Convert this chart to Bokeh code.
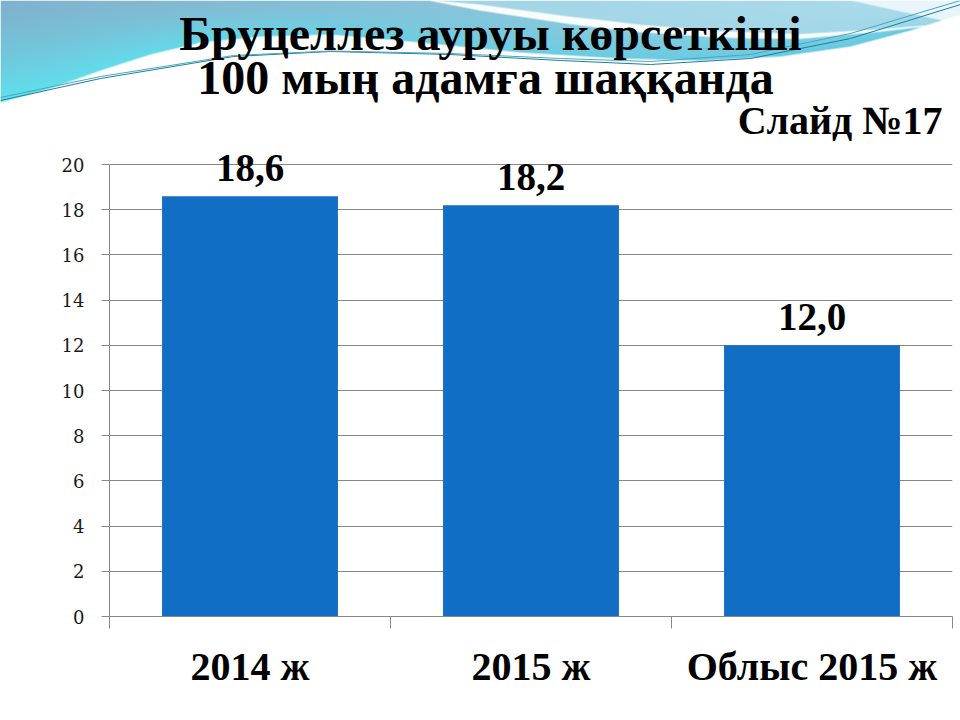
import numpy as np
from bokeh.plotting import figure
from bokeh.layouts import column, row
from bokeh.models import Range1d, FixedTicker, ColumnDataSource
from bokeh.core.properties import value
from bokeh.embed import file_html
from bokeh.resources import INLINE

# ---------------- data ----------------
title_line1 = "Бруцеллез ауруы көрсеткіші"
title_line2 = "100 мың адамға шаққанда"
slide_label = "Слайд №17"
categories = ["2014 ж", "2015 ж", "Облыс 2015 ж"]
values = [18.6, 18.2, 12.0]
y_ticks = [0, 2, 4, 6, 8, 10, 12, 14, 16, 18, 20]

# ---------------- styles ----------------
SERIF = "Liberation Serif"
BAR_COLOR = "#126DC5"
GRID_COLOR = "#878787"
PX_PER_UNIT = 22.6          # vertical scale of the value axis (pixels per unit)
LABEL_GAP_PX = 28           # distance from bar top to the middle of its value label

# ---------------- decorative header (background swoosh) ----------------
W, H = 960, 144
X, Y = np.meshgrid(np.arange(W) + 0.5, np.arange(H) + 0.5)

bx = [0, 50, 100, 150, 200, 260, 330, 420, 520, 620, 700, 780, 850, 910, 960]
by = [102, 88, 70, 54, 42, 36, 34, 42, 52, 58, 60, 56, 46, 30, 14]
Lb = np.interp(X, bx, by)
t = np.clip(Y / Lb, 0, 1) ** 1.3


def interp_col(stops_x, cols):
    cols = np.array(cols, float)
    return np.stack([np.interp(X, stops_x, cols[:, k]) for k in range(3)], axis=-1)


Ct = interp_col([0, 480, 960], [(128, 178, 206), (140, 196, 218), (176, 222, 236)])
Cb = interp_col([0, 480, 960], [(94, 226, 238), (110, 205, 226), (100, 200, 225)])
col = Ct * (1 - t[..., None]) + Cb * t[..., None]

Rc = np.interp(X, [400, 430, 500, 570, 640, 720, 800, 880, 960], [-12, 0, 10, 20, 28, 34, 36, 30, 22])
rw = np.interp(X, [420, 480, 600, 760, 900, 960], [0, 6, 8, 6, 2, 0])
above = ((Y < Rc) & (X > 420)).astype(float)[..., None]
light = np.array([172, 219, 235], float)
col = col * (1 - 0.75 * above) + light * 0.75 * above
ra = (np.clip(rw / 2 - np.abs(Y - Rc) + 0.5, 0, 1) * 0.95)[..., None]
col = col * (1 - ra) + 255 * ra
trb = np.interp(X, [850, 960], [0, 24])
tra = (np.clip(trb - Y + 0.5, 0, 1) * (X > 850) * 0.9)[..., None]
col = col * (1 - tra) + np.array([240, 248, 252]) * tra

a = np.clip(Lb - Y + 0.5, 0, 1)[..., None]
col = col * a + 255 * (1 - a)

img = np.empty((H, W), dtype=np.uint32)
view = img.view(dtype=np.uint8).reshape((H, W, 4))
view[..., 0] = col[..., 0].astype(np.uint8)
view[..., 1] = col[..., 1].astype(np.uint8)
view[..., 2] = col[..., 2].astype(np.uint8)
view[..., 3] = 255
img = img[::-1]

top = figure(width=960, height=144, x_range=Range1d(0, 960), y_range=Range1d(-144, 0),
             output_backend="svg", toolbar_location=None, min_border=0)
top.axis.visible = False
top.grid.visible = False
top.outline_line_color = None
top.background_fill_color = "white"
top.border_fill_color = "white"
top.image_rgba(image=[img], x=0, y=-144, dw=960, dh=144)

l1x = [0, 100, 233, 330, 450, 560, 650, 750, 850, 960]
l1y = [100, 78, 56, 51, 54, 60, 64, 58, 38, 4]
l2y = [97, 76, 55, 50.5, 53, 58, 61, 54, 33, 0]
top.line(l1x, [-v for v in l1y], line_color="#1f7f99", line_width=1)
top.line(l1x, [-v for v in l2y], line_color="#4aa6c0", line_width=1)

top.text(x=[490], y=[-33], text=[title_line1], text_font=value(SERIF), text_font_style="bold",
         text_font_size="48px", text_align="center", text_baseline="middle", text_color="black")
top.text(x=[485], y=[-77], text=[title_line2], text_font=value(SERIF), text_font_style="bold",
         text_font_size="48px", text_align="center", text_baseline="middle", text_color="black")
top.text(x=[942], y=[-120], text=[slide_label], text_font=value(SERIF), text_font_style="bold",
         text_font_size="40px", text_align="right", text_baseline="middle", text_color="black")

# ---------------- main bar chart ----------------
n = len(categories)
centers = [i + 0.5 for i in range(n)]
labels = [f"{v:.1f}".replace(".", ",") for v in values]
label_y = [v + LABEL_GAP_PX / PX_PER_UNIT for v in values]
src = ColumnDataSource(dict(x=centers, top=values, label=labels, ly=label_y))

frame_h = 616 - 144
p = figure(width=960, height=576, x_range=Range1d(0, n), y_range=Range1d(0, frame_h / PX_PER_UNIT),
           output_backend="svg", toolbar_location=None,
           min_border_left=109, min_border_right=8, min_border_top=0, min_border_bottom=104)
p.outline_line_color = None
p.background_fill_color = "white"
p.border_fill_color = "white"

p.vbar(x="x", top="top", width=0.626, bottom=0, source=src, fill_color=BAR_COLOR, line_color=None)
p.text(x="x", y="ly", text="label", source=src, text_align="center",
       text_baseline="middle", text_font=value(SERIF), text_font_style="bold",
       text_font_size="39px", text_color="black")

xa = p.xaxis[0]
xa.ticker = FixedTicker(ticks=centers, minor_ticks=list(range(n + 1)))
xa.major_label_overrides = {c: cat for c, cat in zip(centers, categories)}
xa.major_tick_out = 0
xa.major_tick_in = 0
xa.minor_tick_out = 12
xa.minor_tick_in = 0
xa.minor_tick_line_color = GRID_COLOR
xa.axis_line_color = GRID_COLOR
xa.major_label_standoff = 15
xa.major_label_text_font = SERIF
xa.major_label_text_font_style = "bold"
xa.major_label_text_font_size = "40px"
xa.major_label_text_color = "black"

ya = p.yaxis[0]
ya.ticker = FixedTicker(ticks=y_ticks)
ya.bounds = (0, 20)
ya.major_tick_out = 8
ya.major_tick_in = 0
ya.minor_tick_out = 0
ya.minor_tick_in = 0
ya.axis_line_color = GRID_COLOR
ya.major_tick_line_color = GRID_COLOR
ya.major_label_standoff = 17
ya.major_label_text_font = "DejaVu Serif"
ya.major_label_text_font_size = "18px"
ya.major_label_text_color = "#1a1a1a"

p.xgrid.visible = False
p.ygrid.ticker = FixedTicker(ticks=y_ticks)
p.ygrid.grid_line_color = GRID_COLOR

for f in (top, p):
    if "frame_align" in f.properties():
        f.frame_align = False

layout = column(row(top), p, spacing=0)
open("out.html", "w").write(file_html(layout, INLINE))
